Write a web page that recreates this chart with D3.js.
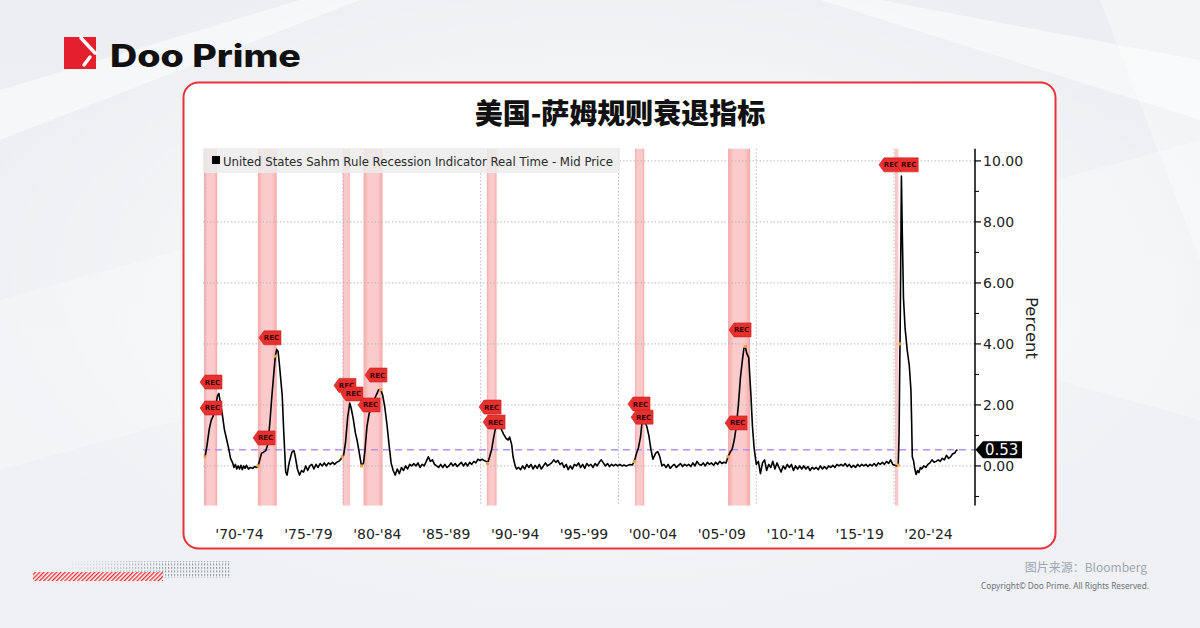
<!DOCTYPE html>
<html><head><meta charset="utf-8">
<script src="https://cdn.jsdelivr.net/npm/d3@7"></script>
<style>html,body{margin:0;padding:0;background:#eef0f3;}svg{display:block}</style>
</head><body>
<svg id="c" width="1200" height="628"></svg>
<script>
// ---------- data ----------
const chartTitle = "美国-萨姆规则衰退指标";
const seriesName = "United States Sahm Rule Recession Indicator Real Time - Mid Price";
const periodStarts = [1970,1975,1980,1985,1990,1995,2000,2005,2010,2015,2020];
const periodLabels = ["'70-'74","'75-'79","'80-'84","'85-'89","'90-'94","'95-'99","'00-'04","'05-'09","'10-'14","'15-'19","'20-'24"];
const decadeLines = [1970,1980,1990,2000,2010,2020];
const yMajorTicks = [0,2,4,6,8,10];
const yMinorTicks = [-1,1,3,5,7,9];
const latestValue = 0.53;
const recessions = [[1969.92,1970.88],[1973.83,1975.2],[1980.0,1980.5],[1981.5,1982.88],[1990.45,1991.15],[2001.2,2001.87],[2007.95,2009.55],[2020.08,2020.3]];
const sahm = [
[1970.0,0.30],[1970.15,0.7],[1970.3,1.2],[1970.45,1.5],[1970.6,1.65],[1970.75,1.9],[1970.9,2.3],[1971.0,2.38],[1971.1,2.1],[1971.25,1.7],[1971.4,1.2],[1971.55,0.9],[1971.7,0.6],[1971.85,0.25],[1972.0,0.1],[1972.1,-0.05],[1972.2,0.05],[1972.3,-0.1],[1972.4,0.0],[1972.5,-0.1],[1972.6,0.02],[1972.7,-0.12],[1972.8,0.0],[1972.9,-0.08],[1973.0,0.02],[1973.15,-0.1],[1973.3,-0.05],[1973.45,-0.08],[1973.6,-0.02],[1973.75,-0.05],[1973.85,0.0],
[1974.0,0.25],[1974.1,0.42],[1974.25,0.45],[1974.4,0.5],[1974.55,0.7],[1974.7,1.4],[1974.85,2.3],[1975.0,3.1],[1975.1,3.6],[1975.2,3.82],[1975.3,3.75],[1975.4,3.3],[1975.5,2.8],[1975.6,2.3],[1975.7,1.2],[1975.85,-0.2],[1975.95,-0.3],[1976.1,0.1],[1976.3,0.45],[1976.45,0.5],[1976.55,0.3],[1976.7,-0.1],[1976.85,-0.3],[1977.0,-0.15],[1977.15,-0.2],[1977.3,0.0],[1977.45,-0.15],[1977.6,0.0],[1977.75,0.05],[1977.9,-0.1],[1978.05,0.05],[1978.2,-0.05],[1978.35,0.08],[1978.5,0.0],[1978.65,0.1],[1978.8,0.0],[1978.95,0.1],[1979.1,0.05],[1979.25,0.12],[1979.4,0.05],[1979.55,0.12],[1979.7,0.15],[1979.85,0.22],[1979.95,0.3],
[1980.05,0.35],[1980.2,0.8],[1980.35,1.6],[1980.5,2.06],[1980.6,1.9],[1980.75,1.55],[1980.9,1.1],[1981.05,0.8],[1981.2,0.4],[1981.35,0.0],[1981.5,0.1],[1981.6,0.5],[1981.75,1.3],[1981.9,1.7],[1982.05,1.9],[1982.2,2.1],[1982.4,2.3],[1982.6,2.5],[1982.75,2.5],[1982.9,2.3],[1983.05,1.9],[1983.2,1.35],[1983.35,0.7],[1983.5,0.1],[1983.65,-0.15],[1983.8,-0.3],[1983.95,-0.1],[1984.1,-0.25],[1984.25,-0.05],[1984.4,-0.15],[1984.55,0.0],[1984.7,-0.1],[1984.85,0.05],
[1985.0,0.0],[1985.15,0.08],[1985.3,0.0],[1985.45,0.1],[1985.6,-0.05],[1985.75,0.05],[1985.9,0.0],[1986.05,0.15],[1986.2,0.3],[1986.35,0.15],[1986.5,0.2],[1986.65,0.05],[1986.8,0.0],[1986.95,-0.05],[1987.1,0.05],[1987.25,-0.05],[1987.4,0.05],[1987.55,-0.05],[1987.7,0.0],[1987.85,0.1],[1988.0,0.0],[1988.15,0.08],[1988.3,-0.02],[1988.45,0.05],[1988.6,0.12],[1988.75,0.0],[1988.9,0.1],[1989.05,0.0],[1989.2,0.12],[1989.35,0.05],[1989.5,0.15],[1989.65,0.1],[1989.8,0.22],[1989.95,0.18],
[1990.1,0.22],[1990.25,0.18],[1990.4,0.15],[1990.5,0.08],[1990.65,0.3],[1990.8,0.55],[1990.95,0.95],[1991.1,1.3],[1991.25,1.52],[1991.35,1.45],[1991.5,1.2],[1991.65,1.05],[1991.85,0.9],[1992.0,0.85],[1992.1,0.95],[1992.25,0.7],[1992.35,0.3],[1992.5,0.0],[1992.6,-0.1],[1992.75,-0.05],[1992.9,-0.12],[1993.05,0.0],[1993.2,-0.1],[1993.35,0.05],[1993.5,-0.05],[1993.65,0.05],[1993.8,-0.1],[1993.95,0.02],[1994.1,-0.08],[1994.25,0.05],[1994.4,-0.1],[1994.55,0.0],[1994.7,0.1],[1994.85,0.0],
[1995.0,0.05],[1995.15,0.1],[1995.3,0.2],[1995.45,0.12],[1995.6,0.18],[1995.75,0.05],[1995.9,0.1],[1996.05,-0.05],[1996.2,0.05],[1996.35,-0.12],[1996.5,0.0],[1996.65,-0.1],[1996.8,0.05],[1996.95,0.0],[1997.1,0.1],[1997.25,-0.05],[1997.4,0.05],[1997.55,-0.08],[1997.7,0.08],[1997.85,0.0],[1998.0,0.05],[1998.15,-0.05],[1998.3,0.08],[1998.45,0.0],[1998.6,0.12],[1998.75,0.2],[1998.9,0.1],[1999.05,0.0],[1999.2,0.08],[1999.35,-0.02],[1999.5,0.05],[1999.65,0.0],[1999.8,0.05],[1999.95,0.0],
[2000.1,0.05],[2000.25,0.0],[2000.4,0.03],[2000.55,0.0],[2000.7,0.02],[2000.85,0.05],[2001.0,0.03],[2001.15,0.15],[2001.3,0.4],[2001.45,0.6],[2001.6,0.95],[2001.7,1.4],[2001.8,1.48],[2001.9,1.45],[2002.05,1.3],[2002.2,1.0],[2002.35,0.55],[2002.5,0.22],[2002.7,0.42],[2002.85,0.47],[2003.0,0.3],[2003.15,0.0],[2003.3,0.05],[2003.45,-0.05],[2003.6,0.05],[2003.75,-0.08],[2003.9,0.0],[2004.05,0.05],[2004.2,-0.05],[2004.35,0.02],[2004.5,0.08],[2004.65,-0.02],[2004.8,0.05],[2004.95,0.0],
[2005.1,0.05],[2005.25,-0.02],[2005.4,0.1],[2005.55,0.0],[2005.7,0.15],[2005.85,0.05],[2006.0,0.02],[2006.15,0.1],[2006.3,0.0],[2006.45,0.12],[2006.6,0.05],[2006.75,0.1],[2006.9,0.02],[2007.05,0.12],[2007.2,0.05],[2007.35,0.15],[2007.5,0.08],[2007.65,0.12],[2007.8,0.1],[2007.95,0.3],[2008.1,0.45],[2008.25,0.55],[2008.4,0.85],[2008.55,1.3],[2008.7,2.0],[2008.85,2.9],[2009.0,3.5],[2009.1,3.85],[2009.2,3.92],[2009.3,3.7],[2009.45,3.55],[2009.6,2.4],[2009.72,1.3],[2009.85,0.55],
[2010.0,0.05],[2010.15,0.15],[2010.3,-0.25],[2010.45,0.1],[2010.6,0.2],[2010.75,-0.15],[2010.9,0.05],[2011.05,-0.05],[2011.2,0.15],[2011.35,-0.1],[2011.5,0.1],[2011.65,-0.05],[2011.8,-0.2],[2011.95,0.0],[2012.1,-0.1],[2012.25,0.05],[2012.4,-0.05],[2012.55,0.05],[2012.7,-0.15],[2012.85,0.0],[2013.0,-0.1],[2013.15,0.0],[2013.3,-0.1],[2013.45,0.0],[2013.6,-0.1],[2013.75,-0.02],[2013.9,-0.15],[2014.05,-0.05],[2014.2,-0.1],[2014.35,-0.05],[2014.5,-0.12],[2014.65,0.0],[2014.8,-0.1],[2014.95,-0.02],
[2015.1,-0.1],[2015.25,0.0],[2015.4,-0.05],[2015.55,0.02],[2015.7,-0.05],[2015.85,0.05],[2016.0,0.0],[2016.15,0.05],[2016.3,0.0],[2016.45,0.08],[2016.6,-0.02],[2016.75,0.05],[2016.9,-0.05],[2017.05,0.02],[2017.2,-0.05],[2017.35,0.05],[2017.5,-0.02],[2017.65,0.05],[2017.8,0.0],[2017.95,0.05],[2018.1,-0.02],[2018.25,0.05],[2018.4,0.0],[2018.55,0.08],[2018.7,0.0],[2018.85,0.1],[2019.0,0.05],[2019.15,0.12],[2019.3,0.05],[2019.45,0.15],[2019.6,0.08],[2019.75,0.2],[2019.9,0.05],
[2020.05,0.02],[2020.2,0.0],[2020.3,0.03],[2020.36,1.0],[2020.45,5.0],[2020.53,9.5],[2020.6,7.5],[2020.68,5.5],[2020.8,4.5],[2020.95,3.8],[2021.1,3.3],[2021.22,2.5],[2021.27,1.5],[2021.32,0.3],[2021.42,0.15],[2021.5,-0.1],[2021.6,-0.28],[2021.7,-0.15],[2021.8,-0.22],[2021.9,-0.05],[2022.0,-0.1],[2022.15,0.0],[2022.3,-0.05],[2022.45,0.05],[2022.6,0.1],[2022.75,0.2],[2022.9,0.12],[2023.05,0.15],[2023.2,0.2],[2023.35,0.15],[2023.5,0.25],[2023.65,0.2],[2023.8,0.35],[2023.95,0.25],[2024.1,0.3],[2024.25,0.4],[2024.4,0.42],[2024.5,0.5],[2024.6,0.53]
];
const turnPoints = [[1970.0,0.30],[1973.85,0.0],[1975.1,3.6],[1979.95,0.3],[1981.35,0.0],[1982.75,2.5],[1990.5,0.08],[1991.1,1.3],[2001.15,0.15],[2001.75,1.45],[2007.95,0.3],[2009.2,3.92],[2020.3,0.03],[2020.43,4.0]];
const recMarkers = [[1970.43,2.75],[1970.43,1.9],[1974.28,0.92],[1974.71,4.2],[1980.15,2.64],[1980.66,2.36],[1981.9,2.0],[1982.4,2.98],[1990.68,1.93],[1990.97,1.44],[2001.49,2.03],[2001.71,1.6],[2008.53,1.41],[2008.82,4.46],[2019.7,9.87],[2020.95,9.87]];

// ---------- drawing ----------
const svg = d3.select("#c");
const defs = svg.append("defs");

// background
const bg = defs.append("linearGradient").attr("id","bg").attr("x1",0).attr("y1",0).attr("x2",0).attr("y2",1);
bg.append("stop").attr("offset","0%").attr("stop-color","#eceef1");
bg.append("stop").attr("offset","100%").attr("stop-color","#eff1f4");
svg.append("rect").attr("width",1200).attr("height",628).attr("fill","url(#bg)");
const glow = defs.append("radialGradient").attr("id","glow").attr("cx","50%").attr("cy","45%").attr("r","55%");
glow.append("stop").attr("offset","0%").attr("stop-color","#ffffff").attr("stop-opacity",0.9);
glow.append("stop").attr("offset","100%").attr("stop-color","#ffffff").attr("stop-opacity",0);
svg.append("rect").attr("width",1200).attr("height",628).attr("fill","url(#glow)");
[[ "M0,90 L300,0 L360,0 L0,140 Z",0.5],["M1200,60 L880,0 L820,0 L1200,120 Z",0.5],["M1100,0 L1200,0 L1200,260 Z",0.35],["M0,300 L180,250 L180,420 L0,470 Z",0.25],["M1056,180 L1200,140 L1200,420 L1056,380 Z",0.3]].forEach(p=>{
  svg.append("path").attr("d",p[0]).attr("fill","#ffffff").attr("opacity",p[1]);
});

// logo
const logo = svg.append("g");
logo.append("rect").attr("x",64).attr("y",37).attr("width",32).attr("height",32).attr("fill","#e5202e");
logo.append("path").attr("d","M81,38 L95,53").attr("stroke","#fff").attr("stroke-width",3.4).attr("stroke-linecap","round");
logo.append("path").attr("d","M84,65 L90,57").attr("stroke","#fff").attr("stroke-width",3.4).attr("stroke-linecap","round");
logo.append("text").attr("x",110).attr("y",67).attr("font-family","Inter, 'Noto Sans', sans-serif").attr("font-weight",800)
  .attr("font-size",31).attr("fill","#111").attr("textLength",191).attr("lengthAdjust","spacingAndGlyphs").text("Doo Prime");

// card
svg.append("rect").attr("x",183.5).attr("y",82.5).attr("width",872).attr("height",466).attr("rx",15)
  .attr("fill","#ffffff").attr("stroke","#e8323a").attr("stroke-width",2);
svg.append("text").attr("x",620).attr("y",124).attr("text-anchor","middle")
  .attr("font-family","'Noto Sans CJK SC', sans-serif").attr("font-weight",900).attr("font-size",28)
  .attr("fill","#111").text(chartTitle);

// scales
const x = d3.scaleLinear().domain([1969.85, 2025.87]).range([203, 975]);
const y = d3.scaleLinear().domain([-1.3, 10.4]).range([505.6, 148.7]);
const [yBot, yTop] = y.range();

// recession bands
const bandGrad = defs.append("linearGradient").attr("id","band").attr("x1",0).attr("x2",1).attr("y1",0).attr("y2",0);
bandGrad.append("stop").attr("offset","0%").attr("stop-color","#f6a9a9");
bandGrad.append("stop").attr("offset","25%").attr("stop-color","#fbcaca");
bandGrad.append("stop").attr("offset","75%").attr("stop-color","#fbcaca");
bandGrad.append("stop").attr("offset","100%").attr("stop-color","#f6a9a9");
svg.append("g").selectAll("rect").data(recessions).join("rect")
  .attr("x",d=>x(d[0])).attr("width",d=>Math.max(2,x(d[1])-x(d[0])))
  .attr("y",yTop).attr("height",yBot-yTop).attr("fill","url(#band)");

// grid
const grid = svg.append("g").attr("stroke","#b9b9b9").attr("stroke-width",1).attr("stroke-dasharray","1.5,2");
grid.selectAll("line.h").data(yMajorTicks).join("line").attr("class","h")
  .attr("x1",203).attr("x2",975).attr("y1",d=>y(d)).attr("y2",d=>y(d));
grid.selectAll("line.v").data(decadeLines).join("line").attr("class","v")
  .attr("x1",d=>x(d)).attr("x2",d=>x(d)).attr("y1",yTop).attr("y2",yBot);

// legend
svg.append("rect").attr("x",203).attr("y",148).attr("width",417).attr("height",25).attr("fill","#ececec").attr("opacity",0.85);
svg.append("rect").attr("x",212).attr("y",156).attr("width",8).attr("height",8).attr("fill","#000");
svg.append("text").attr("x",223).attr("y",165.5).attr("font-family","'DejaVu Sans', sans-serif").attr("font-size",12.5)
  .attr("fill","#2a2a2a").attr("textLength",390).attr("lengthAdjust","spacingAndGlyphs").text(seriesName);

// last-value dashed line
svg.append("line").attr("x1",203).attr("x2",975).attr("y1",y(latestValue)).attr("y2",y(latestValue))
  .attr("stroke","#b590f5").attr("stroke-width",1.6).attr("stroke-dasharray","7,5");

// series line
const line = d3.line().x(d=>x(d[0])).y(d=>y(d[1]));
svg.append("path").datum(sahm).attr("d",line).attr("fill","none").attr("stroke","#000").attr("stroke-width",1.6).attr("stroke-linejoin","round");

// turn points
svg.append("g").selectAll("rect").data(turnPoints).join("rect")
  .attr("x",d=>x(d[0])-1.5).attr("y",d=>y(d[1])-1.5).attr("width",3).attr("height",3).attr("fill","#f0a33a");

// REC markers
const mk = svg.append("g").selectAll("g").data(recMarkers).join("g")
  .attr("transform",d=>`translate(${x(d[0])},${y(d[1])})`);
mk.append("path").attr("d","M-11,0 L-6,-7 L11,-7 L11,7 L-6,7 Z").attr("fill","#e8302f").attr("stroke","#c81e1e").attr("stroke-width",0.6);
mk.append("text").attr("x",1.5).attr("y",2.5).attr("text-anchor","middle").attr("font-family","'DejaVu Sans', sans-serif")
  .attr("font-weight",700).attr("font-size",7).attr("fill","#3a0505").text("REC");

// y axis (right)
const ax = svg.append("g");
ax.append("line").attr("x1",975).attr("x2",975).attr("y1",yTop).attr("y2",yBot).attr("stroke","#000").attr("stroke-width",1.5);
ax.selectAll("line.mj").data(yMajorTicks).join("line").attr("class","mj")
  .attr("x1",975).attr("x2",981).attr("y1",d=>y(d)).attr("y2",d=>y(d)).attr("stroke","#000").attr("stroke-width",1.2);
ax.selectAll("line.mn").data(yMinorTicks).join("line").attr("class","mn")
  .attr("x1",975).attr("x2",979).attr("y1",d=>y(d)).attr("y2",d=>y(d)).attr("stroke","#000").attr("stroke-width",1);
ax.selectAll("text").data(yMajorTicks).join("text")
  .attr("x",983).attr("y",d=>y(d)+5).attr("font-family","'DejaVu Sans', sans-serif").attr("font-size",14)
  .attr("fill","#222").text(d=>d3.format(".2f")(d));
svg.append("text").attr("transform","translate(1026,328) rotate(90)").attr("text-anchor","middle")
  .attr("font-family","'DejaVu Sans', sans-serif").attr("font-size",16.5).attr("fill","#222").text("Percent");

// latest value tag
const ly = y(latestValue);
svg.append("path").attr("d",`M975.5,${ly} L983,${ly-8.5} L1022,${ly-8.5} L1022,${ly+8.5} L983,${ly+8.5} Z`).attr("fill","#000");
svg.append("text").attr("x",985).attr("y",ly+5.5).attr("font-family","'DejaVu Sans', sans-serif").attr("font-size",15)
  .attr("fill","#fff").text(d3.format(".2f")(latestValue));

// x labels
svg.append("g").selectAll("text").data(periodStarts).join("text")
  .attr("x",d=>x(d+2.5)).attr("y",539).attr("text-anchor","middle").attr("font-family","'DejaVu Sans', sans-serif")
  .attr("font-size",14).attr("fill","#222").text((d,i)=>periodLabels[i]);

// footer
svg.append("text").attr("x",1147).attr("y",572).attr("text-anchor","end").attr("font-family","'Noto Sans CJK SC', sans-serif")
  .attr("font-size",12).attr("fill","#9ea7b3").text("图片来源：Bloomberg");
svg.append("text").attr("x",1149).attr("y",589).attr("text-anchor","end").attr("font-family","'Noto Sans', sans-serif")
  .attr("font-size",8.5).attr("fill","#6b7078").attr("textLength",168).attr("lengthAdjust","spacingAndGlyphs").text("Copyright© Doo Prime. All Rights Reserved.");

// decorations bottom-left
const hatch = defs.append("pattern").attr("id","hatch").attr("width",3).attr("height",3).attr("patternUnits","userSpaceOnUse").attr("patternTransform","rotate(45)");
hatch.append("rect").attr("width",3).attr("height",3).attr("fill","#ffffff");
hatch.append("rect").attr("width",1.4).attr("height",3).attr("fill","#e8323a");
const dots = defs.append("pattern").attr("id","dots").attr("width",3).attr("height",3.5).attr("patternUnits","userSpaceOnUse");
dots.append("rect").attr("width",1.2).attr("height",2).attr("fill","#9aa2ad");
const fade = defs.append("linearGradient").attr("id","fade").attr("x1",0).attr("x2",1);
fade.append("stop").attr("offset","0%").attr("stop-color","#fff").attr("stop-opacity",0);
fade.append("stop").attr("offset","60%").attr("stop-color","#fff").attr("stop-opacity",1);
const mask = defs.append("mask").attr("id","fm");
mask.append("rect").attr("x",60).attr("y",558).attr("width",175).attr("height",24).attr("fill","url(#fade)");
svg.append("rect").attr("x",70).attr("y",561).attr("width",160).attr("height",17).attr("fill","url(#dots)").attr("mask","url(#fm)");
svg.append("rect").attr("x",33).attr("y",572).attr("width",130).attr("height",9).attr("fill","url(#hatch)");
</script>
</body></html>
